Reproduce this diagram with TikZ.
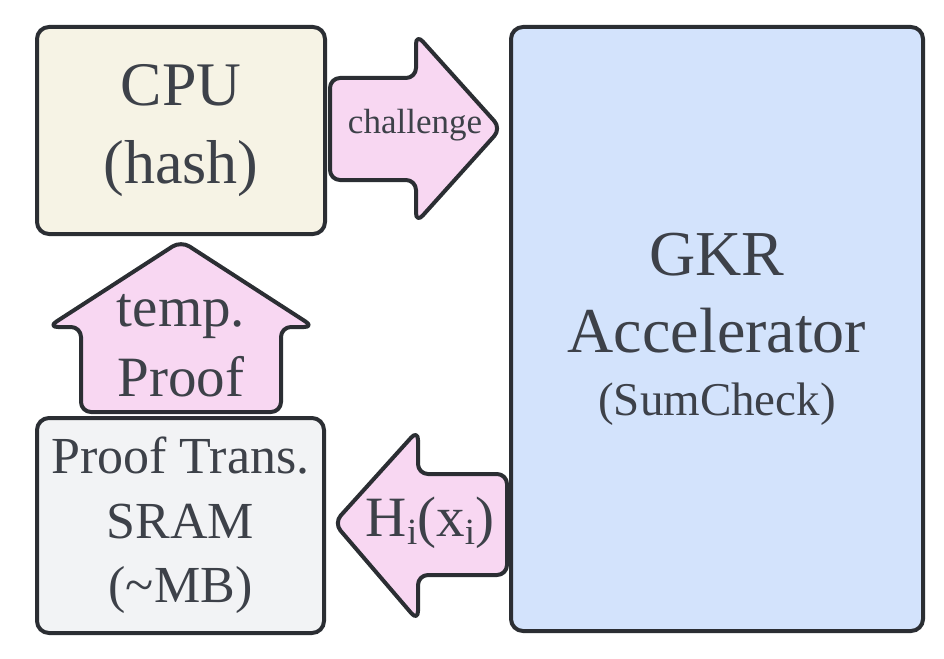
\documentclass[tikz,border=0pt]{standalone}
\usepackage{fontspec}
\setmainfont{Liberation Serif}
\definecolor{edgedark}{HTML}{2B2E33}
\definecolor{txtgray}{HTML}{3D4149}
\definecolor{cpufill}{HTML}{F6F3E5}
\definecolor{gkrfill}{HTML}{D3E3FC}
\definecolor{sramfill}{HTML}{F2F3F5}
\definecolor{msgfill}{HTML}{F8D7F2}
\newcommand{\lowsub}[1]{\raisebox{-8pt}{\fontsize{37}{37}\selectfont #1}}

\begin{document}
\begin{tikzpicture}[x=1pt, y=-1pt,
  unit/.style={rectangle, rounded corners=12pt, draw=edgedark,
    line width=4pt, text=txtgray, align=center,
    inner sep=0pt, outer sep=0pt},
  msg/.style={draw=edgedark, fill=msgfill, line width=4pt,
    rounded corners=10pt, line join=round},
  msglabel/.style={text=txtgray, align=center, inner sep=0pt},
]
  \useasboundingbox (0,0) rectangle (944,658);

  % === units ===
  \node[unit, fill=cpufill, minimum width=288pt, minimum height=207pt,
    font=\fontsize{62}{78}\selectfont] (cpu) at (181,130.5) {CPU\\(hash)};
  \node[unit, fill=gkrfill, minimum width=412pt, minimum height=604pt,
    font=\fontsize{64}{77}\selectfont] (gkr) at (717,329)
    {GKR\\Accelerator\\[-14pt]{\fontsize{47}{50}\selectfont(SumCheck)}};
  \node[unit, fill=sramfill, minimum width=287pt, minimum height=215pt,
    font=\fontsize{52}{64.5}\selectfont] (sram) at (180.5,525.5)
    {Proof Trans.\\SRAM\\(\textasciitilde MB)};

  % === block arrows ===
  \draw[msg] (330,78) -- (416,78) -- (416,34) -- (501,128.5)
    -- (416,223) -- (416,180) -- (330,180) -- cycle;
  \draw[msg] (81,412) -- (81,327) -- (48,327) -- (181,241)
    -- (314,327) -- (281,327) -- (281,412) -- cycle;
  \draw[msg] (507,474) -- (418,474) -- (418,430) -- (334,523)
    -- (418,621) -- (418,575) -- (507,575) -- cycle;

  % === arrow labels ===
  \node[msglabel, font=\fontsize{35}{42}\selectfont] (chal) at (415,125) {challenge};
  \node[msglabel, font=\fontsize{57}{70}\selectfont] (tproof) at (181,345.5) {temp.\\Proof};
  \node[msglabel, font=\fontsize{57}{70}\selectfont] (hix) at (430,523)
    {H\lowsub{i}(x\lowsub{i})};

\end{tikzpicture}
\end{document}
